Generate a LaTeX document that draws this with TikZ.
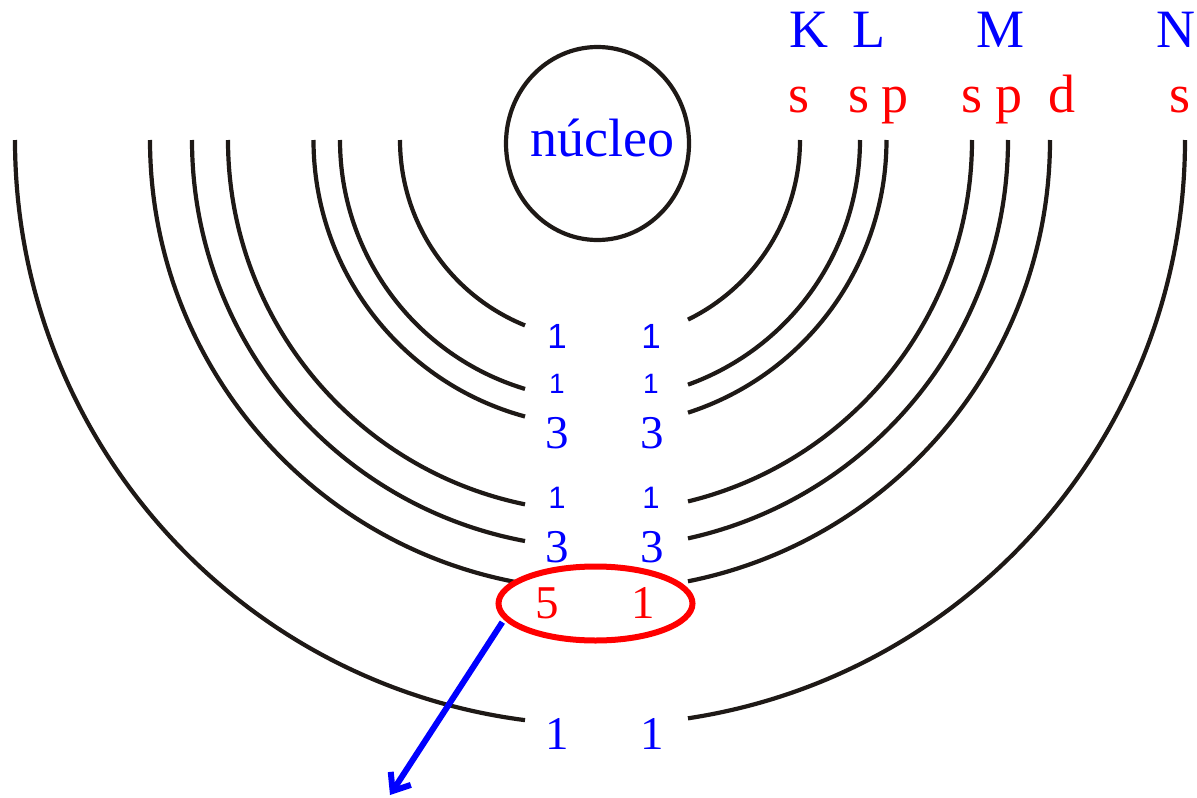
\documentclass[tikz,border=0pt]{standalone}
\usepackage{fontspec}
\setmainfont{Liberation Serif}
\newfontfamily\arialf{Liberation Sans}
\usetikzlibrary{arrows.meta,shapes.geometric}
\definecolor{pblue}{RGB}{0,0,255}
\definecolor{pred}{RGB}{255,0,0}
\definecolor{lineblack}{RGB}{30,25,22}
\begin{document}
\begin{tikzpicture}[x=1pt,y=-1pt,
  shell/.style={draw=lineblack, line width=4.2pt},
  lab/.style={anchor=base, inner sep=0pt, font=\fontsize{54}{60}\selectfont},
  shellname/.style={lab, text=pblue},
  sublab/.style={lab, text=pred},
  num/.style={anchor=base, inner sep=0pt, text=pblue, font=\fontsize{47}{52}\selectfont},
  rednum/.style={num, text=pred},
  sone/.style={anchor=base, inner sep=0pt, text=pblue, font=\arialf\fontsize{#1}{#1}\selectfont},
  bluearrow/.style={draw=pblue, line width=6pt, -{Straight Barb[length=15pt,width=24pt]}}
]
\useasboundingbox (0,0) rectangle (1197,798);

% shells (arcs centred at (600,140))
\foreach \r in {200,260,286.5,372,408,450,585}{
  \draw[shell] (600-\r,140) arc[start angle=180, end angle={270-asin(75/\r)}, radius=\r pt];
  \draw[shell] (600+\r,140) arc[start angle=0, end angle={-90+asin(88/\r)}, radius=\r pt];
}

% nucleus
\node[ellipse, draw=lineblack, line width=4.2pt, minimum width=183pt, minimum height=193pt, inner sep=0pt] (nucleo) at (597.5,143.5) {};
\node[lab, text=pblue, font=\fontsize{54}{60}\selectfont] (nucleotxt) at (602,156) {núcleo};

% shell names
\node[shellname] (K) at (809,47) {K};
\node[shellname] (L) at (869,47) {L};
\node[shellname] (M) at (1000,47) {M};
\node[shellname] (N) at (1176,47) {N};

% subshell names
\node[sublab] (Ks) at (799,112) {s};
\node[sublab] (Ls) at (859,112) {s};
\node[sublab] (Lp) at (895,112) {p};
\node[sublab] (Ms) at (972,112) {s};
\node[sublab] (Mp) at (1009,112) {p};
\node[sublab] (Md) at (1062,112) {d};
\node[sublab] (Ns) at (1180,112) {s};

% numbers
\node[sone=35] (k1) at (557,348) {1};
\node[sone=35] (k2) at (651,348) {1};
\node[sone=28] (ls1) at (557,393) {1};
\node[sone=28] (ls2) at (651,393) {1};
\node[num] (lp1) at (557,448) {3};
\node[num] (lp2) at (652,448) {3};
\node[sone=31] (ms1) at (557,508) {1};
\node[sone=31] (ms2) at (651,508) {1};
\node[num] (mp1) at (557,562) {3};
\node[num] (mp2) at (652,562) {3};
\node[num] (ns1) at (557,749) {1};
\node[num] (ns2) at (652,749) {1};

% highlighted 3d
\node[ellipse, draw=pred, line width=6pt, fill=white, minimum width=194pt, minimum height=74pt, inner sep=0pt] (sel) at (595.5,603.5) {};
\node[rednum] (md1) at (547,618) {5};
\node[rednum] (md2) at (643,618) {1};

% arrow
\coordinate (tip) at (390,795);
\draw[bluearrow, shorten <=3pt] (sel.190) -- (tip);
\end{tikzpicture}
\end{document}
